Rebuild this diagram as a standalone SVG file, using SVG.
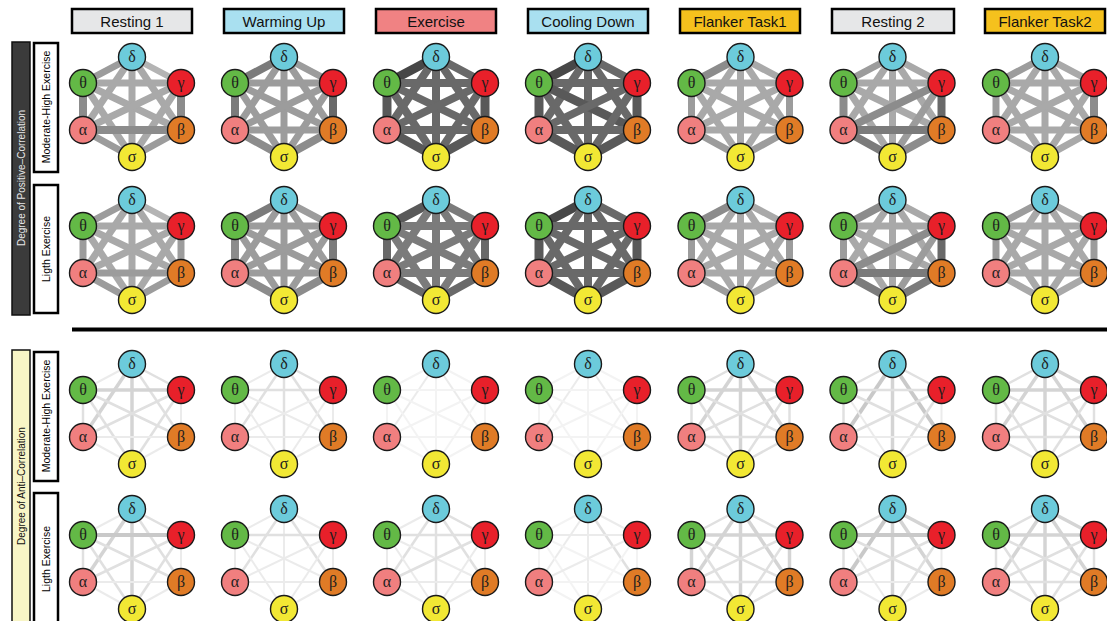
<svg xmlns="http://www.w3.org/2000/svg" xmlns:xlink="http://www.w3.org/1999/xlink" width="1107" height="621" viewBox="0 0 1107 621">
<style>
.hd rect{stroke:#000;stroke-width:2.5}
.hd text{font-family:"Liberation Sans",Arial,sans-serif;font-size:15px;text-anchor:middle;fill:#111}
.rest{fill:#e6e7e8}.warm{fill:#a9e0f0}.exer{fill:#f08283}.flank{fill:#f5c11d}
.lbl{font-family:"Liberation Sans",Arial,sans-serif;text-anchor:middle}
.n circle{stroke:#1a1a1a;stroke-width:1.4}
.n text{font-family:"Liberation Serif","Times New Roman",serif;font-size:16px;text-anchor:middle;fill:#1e1e1e}
.nd circle{fill:#6ccbdb}.nt circle{fill:#63b946}.ng circle{fill:#e8202a}
.na circle{fill:#f07f7f}.nb circle{fill:#e07b26}.ns circle{fill:#f2e834}
.p1{stroke:#b4b4b4;stroke-width:6.5}.p2{stroke:#a9a9a9;stroke-width:7}.p3{stroke:#9c9c9c;stroke-width:7}
.p4{stroke:#8c8c8c;stroke-width:8}.p5{stroke:#7b7b7b;stroke-width:8}.p6{stroke:#696969;stroke-width:8}
.p7{stroke:#595959;stroke-width:9}.p8{stroke:#474747;stroke-width:9}
.a1{stroke:#c9c9c9;stroke-width:4}.a2{stroke:#d4d4d4;stroke-width:3.5}.a3{stroke:#e0e0e0;stroke-width:2.5}
.a4{stroke:#ebebeb;stroke-width:2}.a5{stroke:#f3f3f3;stroke-width:2}
</style>
<defs>
<line id="dt" x1="0" y1="-50" x2="-49" y2="-24"/>
<line id="dg" x1="0" y1="-50" x2="49" y2="-24"/>
<line id="da" x1="0" y1="-50" x2="-49" y2="23"/>
<line id="db" x1="0" y1="-50" x2="49" y2="23"/>
<line id="ds" x1="0" y1="-50" x2="0" y2="50"/>
<line id="tg" x1="-49" y1="-24" x2="49" y2="-24"/>
<line id="ta" x1="-49" y1="-24" x2="-49" y2="23"/>
<line id="tb" x1="-49" y1="-24" x2="49" y2="23"/>
<line id="ts" x1="-49" y1="-24" x2="0" y2="50"/>
<line id="ga" x1="49" y1="-24" x2="-49" y2="23"/>
<line id="gb" x1="49" y1="-24" x2="49" y2="23"/>
<line id="gs" x1="49" y1="-24" x2="0" y2="50"/>
<line id="ab" x1="-49" y1="23" x2="49" y2="23"/>
<line id="as" x1="-49" y1="23" x2="0" y2="50"/>
<line id="bs" x1="49" y1="23" x2="0" y2="50"/>
</defs>
<rect width="1107" height="621" fill="#fff"/>

<g id="headers" class="hd">
<g id="h1"><rect class="rest" x="72" y="9" width="120" height="24"/><text x="132" y="27">Resting  1</text></g>
<g id="h2"><rect class="warm" x="224" y="9" width="120" height="24"/><text x="284" y="27">Warming  Up</text></g>
<g id="h3"><rect class="exer" x="376" y="9" width="120" height="24"/><text x="436" y="27">Exercise</text></g>
<g id="h4"><rect class="warm" x="528" y="9" width="120" height="24"/><text x="588" y="27">Cooling  Down</text></g>
<g id="h5"><rect class="flank" x="680" y="9" width="120" height="24"/><text x="740" y="27">Flanker Task1</text></g>
<g id="h6"><rect class="rest" x="832" y="9" width="122" height="24"/><text x="893" y="27">Resting  2</text></g>
<g id="h7"><rect class="flank" x="985" y="9" width="120" height="24"/><text x="1045" y="27">Flanker Task2</text></g>
</g>

<g id="side-labels">
<g id="pos-bar"><rect x="12" y="42" width="18" height="273" fill="#3b3b3b" stroke="#111" stroke-width="1.5"/><text class="lbl" transform="translate(25,178) rotate(-90)" font-size="10" fill="#e6e6e6">Degree of Positive–Correlation</text></g>
<g id="pos-mh"><rect x="34" y="43" width="24" height="129" fill="#fff" stroke="#000" stroke-width="2.5"/><text class="lbl" transform="translate(50,107) rotate(-90)" font-size="10.5" fill="#000">Moderate-High Exercise</text></g>
<g id="pos-l"><rect x="34" y="185" width="24" height="128" fill="#fff" stroke="#000" stroke-width="2.5"/><text class="lbl" transform="translate(50,249) rotate(-90)" font-size="10.5" fill="#000">Ligth Exercise</text></g>
<g id="anti-bar"><rect x="12" y="350" width="18" height="280" fill="#f8f5c6" stroke="#111" stroke-width="1.5"/><text class="lbl" transform="translate(25,486) rotate(-90)" font-size="10" fill="#111">Degree of Anti–Correlation</text></g>
<g id="anti-mh"><rect x="34" y="352" width="24" height="129" fill="#fff" stroke="#000" stroke-width="2.5"/><text class="lbl" transform="translate(50,416) rotate(-90)" font-size="10.5" fill="#000">Moderate-High Exercise</text></g>
<g id="anti-l"><rect x="34" y="493" width="24" height="140" fill="#fff" stroke="#000" stroke-width="2.5"/><text class="lbl" transform="translate(50,559) rotate(-90)" font-size="10.5" fill="#000">Ligth Exercise</text></g>
</g>
<line id="divider" x1="72" y1="329.5" x2="1107" y2="329.5" stroke="#000" stroke-width="4"/>

<!-- ROW 1 -->
<g id="r1c1" transform="translate(132,107)">
<g id="r1c1-edges"><use href="#dt" class="p3"/><use href="#dg" class="p1"/><use href="#da" class="p2"/><use href="#db" class="p2"/><use href="#ds" class="p2"/><use href="#tg" class="p2"/><use href="#ta" class="p4"/><use href="#tb" class="p2"/><use href="#ts" class="p2"/><use href="#ga" class="p2"/><use href="#gb" class="p4"/><use href="#gs" class="p2"/><use href="#ab" class="p4"/><use href="#as" class="p3"/><use href="#bs" class="p3"/></g>
<g id="r1c1-d" class="n nd"><circle cx="0" cy="-50" r="13.5"/><text x="0" y="-45">δ</text></g>
<g id="r1c1-t" class="n nt"><circle cx="-49" cy="-24" r="13.5"/><text x="-49" y="-19">θ</text></g>
<g id="r1c1-g" class="n ng"><circle cx="49" cy="-24" r="13.5"/><text x="49" y="-19">γ</text></g>
<g id="r1c1-a" class="n na"><circle cx="-49" cy="23" r="13.5"/><text x="-49" y="28">α</text></g>
<g id="r1c1-b" class="n nb"><circle cx="49" cy="23" r="13.5"/><text x="49" y="28">β</text></g>
<g id="r1c1-s" class="n ns"><circle cx="0" cy="50" r="13.5"/><text x="0" y="55">σ</text></g>
</g>
<g id="r1c2" transform="translate(284,107)">
<g id="r1c2-edges"><use href="#dt" class="p5"/><use href="#dg" class="p3"/><use href="#da" class="p3"/><use href="#db" class="p3"/><use href="#ds" class="p3"/><use href="#tg" class="p3"/><use href="#ta" class="p5"/><use href="#tb" class="p3"/><use href="#ts" class="p3"/><use href="#ga" class="p3"/><use href="#gb" class="p6"/><use href="#gs" class="p3"/><use href="#ab" class="p3"/><use href="#as" class="p4"/><use href="#bs" class="p4"/></g>
<g id="r1c2-d" class="n nd"><circle cx="0" cy="-50" r="13.5"/><text x="0" y="-45">δ</text></g>
<g id="r1c2-t" class="n nt"><circle cx="-49" cy="-24" r="13.5"/><text x="-49" y="-19">θ</text></g>
<g id="r1c2-g" class="n ng"><circle cx="49" cy="-24" r="13.5"/><text x="49" y="-19">γ</text></g>
<g id="r1c2-a" class="n na"><circle cx="-49" cy="23" r="13.5"/><text x="-49" y="28">α</text></g>
<g id="r1c2-b" class="n nb"><circle cx="49" cy="23" r="13.5"/><text x="49" y="28">β</text></g>
<g id="r1c2-s" class="n ns"><circle cx="0" cy="50" r="13.5"/><text x="0" y="55">σ</text></g>
</g>
<g id="r1c3" transform="translate(436,107)">
<g id="r1c3-edges"><use href="#dt" class="p8"/><use href="#dg" class="p6"/><use href="#da" class="p6"/><use href="#db" class="p6"/><use href="#ds" class="p6"/><use href="#tg" class="p6"/><use href="#ta" class="p7"/><use href="#tb" class="p6"/><use href="#ts" class="p6"/><use href="#ga" class="p6"/><use href="#gb" class="p7"/><use href="#gs" class="p6"/><use href="#ab" class="p6"/><use href="#as" class="p7"/><use href="#bs" class="p7"/></g>
<g id="r1c3-d" class="n nd"><circle cx="0" cy="-50" r="13.5"/><text x="0" y="-45">δ</text></g>
<g id="r1c3-t" class="n nt"><circle cx="-49" cy="-24" r="13.5"/><text x="-49" y="-19">θ</text></g>
<g id="r1c3-g" class="n ng"><circle cx="49" cy="-24" r="13.5"/><text x="49" y="-19">γ</text></g>
<g id="r1c3-a" class="n na"><circle cx="-49" cy="23" r="13.5"/><text x="-49" y="28">α</text></g>
<g id="r1c3-b" class="n nb"><circle cx="49" cy="23" r="13.5"/><text x="49" y="28">β</text></g>
<g id="r1c3-s" class="n ns"><circle cx="0" cy="50" r="13.5"/><text x="0" y="55">σ</text></g>
</g>
<g id="r1c4" transform="translate(588,107)">
<g id="r1c4-edges"><use href="#dt" class="p8"/><use href="#dg" class="p6"/><use href="#da" class="p6"/><use href="#db" class="p6"/><use href="#ds" class="p6"/><use href="#tg" class="p6"/><use href="#ta" class="p7"/><use href="#tb" class="p7"/><use href="#ts" class="p6"/><use href="#ga" class="p6"/><use href="#gb" class="p7"/><use href="#gs" class="p6"/><use href="#ab" class="p6"/><use href="#as" class="p7"/><use href="#bs" class="p7"/></g>
<g id="r1c4-d" class="n nd"><circle cx="0" cy="-50" r="13.5"/><text x="0" y="-45">δ</text></g>
<g id="r1c4-t" class="n nt"><circle cx="-49" cy="-24" r="13.5"/><text x="-49" y="-19">θ</text></g>
<g id="r1c4-g" class="n ng"><circle cx="49" cy="-24" r="13.5"/><text x="49" y="-19">γ</text></g>
<g id="r1c4-a" class="n na"><circle cx="-49" cy="23" r="13.5"/><text x="-49" y="28">α</text></g>
<g id="r1c4-b" class="n nb"><circle cx="49" cy="23" r="13.5"/><text x="49" y="28">β</text></g>
<g id="r1c4-s" class="n ns"><circle cx="0" cy="50" r="13.5"/><text x="0" y="55">σ</text></g>
</g>
<g id="r1c5" transform="translate(740.5,107)">
<g id="r1c5-edges"><use href="#dt" class="p4"/><use href="#dg" class="p2"/><use href="#da" class="p2"/><use href="#db" class="p2"/><use href="#ds" class="p2"/><use href="#tg" class="p2"/><use href="#ta" class="p3"/><use href="#tb" class="p2"/><use href="#ts" class="p2"/><use href="#ga" class="p2"/><use href="#gb" class="p3"/><use href="#gs" class="p2"/><use href="#ab" class="p2"/><use href="#as" class="p3"/><use href="#bs" class="p3"/></g>
<g id="r1c5-d" class="n nd"><circle cx="0" cy="-50" r="13.5"/><text x="0" y="-45">δ</text></g>
<g id="r1c5-t" class="n nt"><circle cx="-49" cy="-24" r="13.5"/><text x="-49" y="-19">θ</text></g>
<g id="r1c5-g" class="n ng"><circle cx="49" cy="-24" r="13.5"/><text x="49" y="-19">γ</text></g>
<g id="r1c5-a" class="n na"><circle cx="-49" cy="23" r="13.5"/><text x="-49" y="28">α</text></g>
<g id="r1c5-b" class="n nb"><circle cx="49" cy="23" r="13.5"/><text x="49" y="28">β</text></g>
<g id="r1c5-s" class="n ns"><circle cx="0" cy="50" r="13.5"/><text x="0" y="55">σ</text></g>
</g>
<g id="r1c6" transform="translate(892.5,107)">
<g id="r1c6-edges"><use href="#dt" class="p3"/><use href="#dg" class="p2"/><use href="#da" class="p2"/><use href="#db" class="p2"/><use href="#ds" class="p2"/><use href="#tg" class="p2"/><use href="#ta" class="p4"/><use href="#tb" class="p2"/><use href="#ts" class="p2"/><use href="#ga" class="p4"/><use href="#gb" class="p6"/><use href="#gs" class="p3"/><use href="#ab" class="p5"/><use href="#as" class="p5"/><use href="#bs" class="p4"/></g>
<g id="r1c6-d" class="n nd"><circle cx="0" cy="-50" r="13.5"/><text x="0" y="-45">δ</text></g>
<g id="r1c6-t" class="n nt"><circle cx="-49" cy="-24" r="13.5"/><text x="-49" y="-19">θ</text></g>
<g id="r1c6-g" class="n ng"><circle cx="49" cy="-24" r="13.5"/><text x="49" y="-19">γ</text></g>
<g id="r1c6-a" class="n na"><circle cx="-49" cy="23" r="13.5"/><text x="-49" y="28">α</text></g>
<g id="r1c6-b" class="n nb"><circle cx="49" cy="23" r="13.5"/><text x="49" y="28">β</text></g>
<g id="r1c6-s" class="n ns"><circle cx="0" cy="50" r="13.5"/><text x="0" y="55">σ</text></g>
</g>
<g id="r1c7" transform="translate(1045,107)">
<g id="r1c7-edges"><use href="#dt" class="p3"/><use href="#dg" class="p2"/><use href="#da" class="p2"/><use href="#db" class="p2"/><use href="#ds" class="p2"/><use href="#tg" class="p2"/><use href="#ta" class="p3"/><use href="#tb" class="p2"/><use href="#ts" class="p2"/><use href="#ga" class="p2"/><use href="#gb" class="p4"/><use href="#gs" class="p2"/><use href="#ab" class="p2"/><use href="#as" class="p2"/><use href="#bs" class="p2"/></g>
<g id="r1c7-d" class="n nd"><circle cx="0" cy="-50" r="13.5"/><text x="0" y="-45">δ</text></g>
<g id="r1c7-t" class="n nt"><circle cx="-49" cy="-24" r="13.5"/><text x="-49" y="-19">θ</text></g>
<g id="r1c7-g" class="n ng"><circle cx="49" cy="-24" r="13.5"/><text x="49" y="-19">γ</text></g>
<g id="r1c7-a" class="n na"><circle cx="-49" cy="23" r="13.5"/><text x="-49" y="28">α</text></g>
<g id="r1c7-b" class="n nb"><circle cx="49" cy="23" r="13.5"/><text x="49" y="28">β</text></g>
<g id="r1c7-s" class="n ns"><circle cx="0" cy="50" r="13.5"/><text x="0" y="55">σ</text></g>
</g>

<!-- ROW 2 -->
<g id="r2c1" transform="translate(132,250)">
<g id="r2c1-edges"><use href="#dt" class="p3"/><use href="#dg" class="p1"/><use href="#da" class="p2"/><use href="#db" class="p2"/><use href="#ds" class="p2"/><use href="#tg" class="p2"/><use href="#ta" class="p3"/><use href="#tb" class="p2"/><use href="#ts" class="p2"/><use href="#ga" class="p2"/><use href="#gb" class="p3"/><use href="#gs" class="p2"/><use href="#ab" class="p3"/><use href="#as" class="p3"/><use href="#bs" class="p3"/></g>
<g id="r2c1-d" class="n nd"><circle cx="0" cy="-50" r="13.5"/><text x="0" y="-45">δ</text></g>
<g id="r2c1-t" class="n nt"><circle cx="-49" cy="-24" r="13.5"/><text x="-49" y="-19">θ</text></g>
<g id="r2c1-g" class="n ng"><circle cx="49" cy="-24" r="13.5"/><text x="49" y="-19">γ</text></g>
<g id="r2c1-a" class="n na"><circle cx="-49" cy="23" r="13.5"/><text x="-49" y="28">α</text></g>
<g id="r2c1-b" class="n nb"><circle cx="49" cy="23" r="13.5"/><text x="49" y="28">β</text></g>
<g id="r2c1-s" class="n ns"><circle cx="0" cy="50" r="13.5"/><text x="0" y="55">σ</text></g>
</g>
<g id="r2c2" transform="translate(284,250)">
<g id="r2c2-edges"><use href="#dt" class="p5"/><use href="#dg" class="p3"/><use href="#da" class="p3"/><use href="#db" class="p3"/><use href="#ds" class="p3"/><use href="#tg" class="p3"/><use href="#ta" class="p4"/><use href="#tb" class="p3"/><use href="#ts" class="p3"/><use href="#ga" class="p3"/><use href="#gb" class="p5"/><use href="#gs" class="p3"/><use href="#ab" class="p3"/><use href="#as" class="p4"/><use href="#bs" class="p4"/></g>
<g id="r2c2-d" class="n nd"><circle cx="0" cy="-50" r="13.5"/><text x="0" y="-45">δ</text></g>
<g id="r2c2-t" class="n nt"><circle cx="-49" cy="-24" r="13.5"/><text x="-49" y="-19">θ</text></g>
<g id="r2c2-g" class="n ng"><circle cx="49" cy="-24" r="13.5"/><text x="49" y="-19">γ</text></g>
<g id="r2c2-a" class="n na"><circle cx="-49" cy="23" r="13.5"/><text x="-49" y="28">α</text></g>
<g id="r2c2-b" class="n nb"><circle cx="49" cy="23" r="13.5"/><text x="49" y="28">β</text></g>
<g id="r2c2-s" class="n ns"><circle cx="0" cy="50" r="13.5"/><text x="0" y="55">σ</text></g>
</g>
<g id="r2c3" transform="translate(436,250)">
<g id="r2c3-edges"><use href="#dt" class="p7"/><use href="#dg" class="p5"/><use href="#da" class="p5"/><use href="#db" class="p5"/><use href="#ds" class="p5"/><use href="#tg" class="p5"/><use href="#ta" class="p6"/><use href="#tb" class="p5"/><use href="#ts" class="p5"/><use href="#ga" class="p5"/><use href="#gb" class="p6"/><use href="#gs" class="p5"/><use href="#ab" class="p5"/><use href="#as" class="p6"/><use href="#bs" class="p6"/></g>
<g id="r2c3-d" class="n nd"><circle cx="0" cy="-50" r="13.5"/><text x="0" y="-45">δ</text></g>
<g id="r2c3-t" class="n nt"><circle cx="-49" cy="-24" r="13.5"/><text x="-49" y="-19">θ</text></g>
<g id="r2c3-g" class="n ng"><circle cx="49" cy="-24" r="13.5"/><text x="49" y="-19">γ</text></g>
<g id="r2c3-a" class="n na"><circle cx="-49" cy="23" r="13.5"/><text x="-49" y="28">α</text></g>
<g id="r2c3-b" class="n nb"><circle cx="49" cy="23" r="13.5"/><text x="49" y="28">β</text></g>
<g id="r2c3-s" class="n ns"><circle cx="0" cy="50" r="13.5"/><text x="0" y="55">σ</text></g>
</g>
<g id="r2c4" transform="translate(588,250)">
<g id="r2c4-edges"><use href="#dt" class="p8"/><use href="#dg" class="p6"/><use href="#da" class="p6"/><use href="#db" class="p6"/><use href="#ds" class="p6"/><use href="#tg" class="p6"/><use href="#ta" class="p7"/><use href="#tb" class="p6"/><use href="#ts" class="p6"/><use href="#ga" class="p6"/><use href="#gb" class="p7"/><use href="#gs" class="p6"/><use href="#ab" class="p6"/><use href="#as" class="p7"/><use href="#bs" class="p7"/></g>
<g id="r2c4-d" class="n nd"><circle cx="0" cy="-50" r="13.5"/><text x="0" y="-45">δ</text></g>
<g id="r2c4-t" class="n nt"><circle cx="-49" cy="-24" r="13.5"/><text x="-49" y="-19">θ</text></g>
<g id="r2c4-g" class="n ng"><circle cx="49" cy="-24" r="13.5"/><text x="49" y="-19">γ</text></g>
<g id="r2c4-a" class="n na"><circle cx="-49" cy="23" r="13.5"/><text x="-49" y="28">α</text></g>
<g id="r2c4-b" class="n nb"><circle cx="49" cy="23" r="13.5"/><text x="49" y="28">β</text></g>
<g id="r2c4-s" class="n ns"><circle cx="0" cy="50" r="13.5"/><text x="0" y="55">σ</text></g>
</g>
<g id="r2c5" transform="translate(740.5,250)">
<g id="r2c5-edges"><use href="#dt" class="p4"/><use href="#dg" class="p2"/><use href="#da" class="p2"/><use href="#db" class="p2"/><use href="#ds" class="p2"/><use href="#tg" class="p2"/><use href="#ta" class="p3"/><use href="#tb" class="p2"/><use href="#ts" class="p2"/><use href="#ga" class="p2"/><use href="#gb" class="p3"/><use href="#gs" class="p2"/><use href="#ab" class="p2"/><use href="#as" class="p3"/><use href="#bs" class="p2"/></g>
<g id="r2c5-d" class="n nd"><circle cx="0" cy="-50" r="13.5"/><text x="0" y="-45">δ</text></g>
<g id="r2c5-t" class="n nt"><circle cx="-49" cy="-24" r="13.5"/><text x="-49" y="-19">θ</text></g>
<g id="r2c5-g" class="n ng"><circle cx="49" cy="-24" r="13.5"/><text x="49" y="-19">γ</text></g>
<g id="r2c5-a" class="n na"><circle cx="-49" cy="23" r="13.5"/><text x="-49" y="28">α</text></g>
<g id="r2c5-b" class="n nb"><circle cx="49" cy="23" r="13.5"/><text x="49" y="28">β</text></g>
<g id="r2c5-s" class="n ns"><circle cx="0" cy="50" r="13.5"/><text x="0" y="55">σ</text></g>
</g>
<g id="r2c6" transform="translate(892.5,250)">
<g id="r2c6-edges"><use href="#dt" class="p4"/><use href="#dg" class="p2"/><use href="#da" class="p2"/><use href="#db" class="p2"/><use href="#ds" class="p2"/><use href="#tg" class="p2"/><use href="#ta" class="p3"/><use href="#tb" class="p2"/><use href="#ts" class="p2"/><use href="#ga" class="p4"/><use href="#gb" class="p6"/><use href="#gs" class="p3"/><use href="#ab" class="p5"/><use href="#as" class="p5"/><use href="#bs" class="p5"/></g>
<g id="r2c6-d" class="n nd"><circle cx="0" cy="-50" r="13.5"/><text x="0" y="-45">δ</text></g>
<g id="r2c6-t" class="n nt"><circle cx="-49" cy="-24" r="13.5"/><text x="-49" y="-19">θ</text></g>
<g id="r2c6-g" class="n ng"><circle cx="49" cy="-24" r="13.5"/><text x="49" y="-19">γ</text></g>
<g id="r2c6-a" class="n na"><circle cx="-49" cy="23" r="13.5"/><text x="-49" y="28">α</text></g>
<g id="r2c6-b" class="n nb"><circle cx="49" cy="23" r="13.5"/><text x="49" y="28">β</text></g>
<g id="r2c6-s" class="n ns"><circle cx="0" cy="50" r="13.5"/><text x="0" y="55">σ</text></g>
</g>
<g id="r2c7" transform="translate(1045,250)">
<g id="r2c7-edges"><use href="#dt" class="p3"/><use href="#dg" class="p2"/><use href="#da" class="p2"/><use href="#db" class="p2"/><use href="#ds" class="p2"/><use href="#tg" class="p2"/><use href="#ta" class="p3"/><use href="#tb" class="p2"/><use href="#ts" class="p2"/><use href="#ga" class="p2"/><use href="#gb" class="p3"/><use href="#gs" class="p2"/><use href="#ab" class="p2"/><use href="#as" class="p2"/><use href="#bs" class="p2"/></g>
<g id="r2c7-d" class="n nd"><circle cx="0" cy="-50" r="13.5"/><text x="0" y="-45">δ</text></g>
<g id="r2c7-t" class="n nt"><circle cx="-49" cy="-24" r="13.5"/><text x="-49" y="-19">θ</text></g>
<g id="r2c7-g" class="n ng"><circle cx="49" cy="-24" r="13.5"/><text x="49" y="-19">γ</text></g>
<g id="r2c7-a" class="n na"><circle cx="-49" cy="23" r="13.5"/><text x="-49" y="28">α</text></g>
<g id="r2c7-b" class="n nb"><circle cx="49" cy="23" r="13.5"/><text x="49" y="28">β</text></g>
<g id="r2c7-s" class="n ns"><circle cx="0" cy="50" r="13.5"/><text x="0" y="55">σ</text></g>
</g>

<!-- ROW 3 -->
<g id="r3c1" transform="translate(132,414)">
<g id="r3c1-edges"><use href="#dt" class="a4"/><use href="#dg" class="a3"/><use href="#da" class="a2"/><use href="#db" class="a3"/><use href="#ds" class="a2"/><use href="#tg" class="a2"/><use href="#ta" class="a3"/><use href="#tb" class="a3"/><use href="#ts" class="a3"/><use href="#ga" class="a3"/><use href="#gb" class="a4"/><use href="#gs" class="a3"/><use href="#ab" class="a4"/><use href="#as" class="a4"/><use href="#bs" class="a4"/></g>
<g id="r3c1-d" class="n nd"><circle cx="0" cy="-50" r="13.5"/><text x="0" y="-45">δ</text></g>
<g id="r3c1-t" class="n nt"><circle cx="-49" cy="-24" r="13.5"/><text x="-49" y="-19">θ</text></g>
<g id="r3c1-g" class="n ng"><circle cx="49" cy="-24" r="13.5"/><text x="49" y="-19">γ</text></g>
<g id="r3c1-a" class="n na"><circle cx="-49" cy="23" r="13.5"/><text x="-49" y="28">α</text></g>
<g id="r3c1-b" class="n nb"><circle cx="49" cy="23" r="13.5"/><text x="49" y="28">β</text></g>
<g id="r3c1-s" class="n ns"><circle cx="0" cy="50" r="13.5"/><text x="0" y="55">σ</text></g>
</g>
<g id="r3c2" transform="translate(284,414)">
<g id="r3c2-edges"><use href="#dt" class="a4"/><use href="#dg" class="a3"/><use href="#da" class="a3"/><use href="#db" class="a3"/><use href="#ds" class="a3"/><use href="#tg" class="a3"/><use href="#ta" class="a4"/><use href="#tb" class="a4"/><use href="#ts" class="a4"/><use href="#ga" class="a4"/><use href="#gb" class="a4"/><use href="#gs" class="a4"/><use href="#ab" class="a4"/><use href="#as" class="a4"/><use href="#bs" class="a4"/></g>
<g id="r3c2-d" class="n nd"><circle cx="0" cy="-50" r="13.5"/><text x="0" y="-45">δ</text></g>
<g id="r3c2-t" class="n nt"><circle cx="-49" cy="-24" r="13.5"/><text x="-49" y="-19">θ</text></g>
<g id="r3c2-g" class="n ng"><circle cx="49" cy="-24" r="13.5"/><text x="49" y="-19">γ</text></g>
<g id="r3c2-a" class="n na"><circle cx="-49" cy="23" r="13.5"/><text x="-49" y="28">α</text></g>
<g id="r3c2-b" class="n nb"><circle cx="49" cy="23" r="13.5"/><text x="49" y="28">β</text></g>
<g id="r3c2-s" class="n ns"><circle cx="0" cy="50" r="13.5"/><text x="0" y="55">σ</text></g>
</g>
<g id="r3c3" transform="translate(436,414)">
<g id="r3c3-edges"><use href="#dt" class="a5"/><use href="#dg" class="a5"/><use href="#da" class="a4"/><use href="#db" class="a4"/><use href="#ds" class="a5"/><use href="#tg" class="a5"/><use href="#ta" class="a5"/><use href="#tb" class="a5"/><use href="#ts" class="a5"/><use href="#ga" class="a5"/><use href="#gb" class="a5"/><use href="#gs" class="a5"/><use href="#ab" class="a5"/><use href="#as" class="a5"/><use href="#bs" class="a5"/></g>
<g id="r3c3-d" class="n nd"><circle cx="0" cy="-50" r="13.5"/><text x="0" y="-45">δ</text></g>
<g id="r3c3-t" class="n nt"><circle cx="-49" cy="-24" r="13.5"/><text x="-49" y="-19">θ</text></g>
<g id="r3c3-g" class="n ng"><circle cx="49" cy="-24" r="13.5"/><text x="49" y="-19">γ</text></g>
<g id="r3c3-a" class="n na"><circle cx="-49" cy="23" r="13.5"/><text x="-49" y="28">α</text></g>
<g id="r3c3-b" class="n nb"><circle cx="49" cy="23" r="13.5"/><text x="49" y="28">β</text></g>
<g id="r3c3-s" class="n ns"><circle cx="0" cy="50" r="13.5"/><text x="0" y="55">σ</text></g>
</g>
<g id="r3c4" transform="translate(588,414)">
<g id="r3c4-edges"><use href="#dt" class="a5"/><use href="#dg" class="a5"/><use href="#da" class="a4"/><use href="#db" class="a4"/><use href="#ds" class="a5"/><use href="#tg" class="a5"/><use href="#ta" class="a5"/><use href="#tb" class="a5"/><use href="#ts" class="a5"/><use href="#ga" class="a5"/><use href="#gb" class="a5"/><use href="#gs" class="a5"/><use href="#ab" class="a5"/><use href="#as" class="a5"/><use href="#bs" class="a5"/></g>
<g id="r3c4-d" class="n nd"><circle cx="0" cy="-50" r="13.5"/><text x="0" y="-45">δ</text></g>
<g id="r3c4-t" class="n nt"><circle cx="-49" cy="-24" r="13.5"/><text x="-49" y="-19">θ</text></g>
<g id="r3c4-g" class="n ng"><circle cx="49" cy="-24" r="13.5"/><text x="49" y="-19">γ</text></g>
<g id="r3c4-a" class="n na"><circle cx="-49" cy="23" r="13.5"/><text x="-49" y="28">α</text></g>
<g id="r3c4-b" class="n nb"><circle cx="49" cy="23" r="13.5"/><text x="49" y="28">β</text></g>
<g id="r3c4-s" class="n ns"><circle cx="0" cy="50" r="13.5"/><text x="0" y="55">σ</text></g>
</g>
<g id="r3c5" transform="translate(740.5,414)">
<g id="r3c5-edges"><use href="#dt" class="a3"/><use href="#dg" class="a3"/><use href="#da" class="a2"/><use href="#db" class="a2"/><use href="#ds" class="a2"/><use href="#tg" class="a2"/><use href="#ta" class="a3"/><use href="#tb" class="a3"/><use href="#ts" class="a3"/><use href="#ga" class="a3"/><use href="#gb" class="a3"/><use href="#gs" class="a3"/><use href="#ab" class="a3"/><use href="#as" class="a3"/><use href="#bs" class="a3"/></g>
<g id="r3c5-d" class="n nd"><circle cx="0" cy="-50" r="13.5"/><text x="0" y="-45">δ</text></g>
<g id="r3c5-t" class="n nt"><circle cx="-49" cy="-24" r="13.5"/><text x="-49" y="-19">θ</text></g>
<g id="r3c5-g" class="n ng"><circle cx="49" cy="-24" r="13.5"/><text x="49" y="-19">γ</text></g>
<g id="r3c5-a" class="n na"><circle cx="-49" cy="23" r="13.5"/><text x="-49" y="28">α</text></g>
<g id="r3c5-b" class="n nb"><circle cx="49" cy="23" r="13.5"/><text x="49" y="28">β</text></g>
<g id="r3c5-s" class="n ns"><circle cx="0" cy="50" r="13.5"/><text x="0" y="55">σ</text></g>
</g>
<g id="r3c6" transform="translate(892.5,414)">
<g id="r3c6-edges"><use href="#dt" class="a3"/><use href="#dg" class="a3"/><use href="#da" class="a1"/><use href="#db" class="a1"/><use href="#ds" class="a2"/><use href="#tg" class="a3"/><use href="#ta" class="a3"/><use href="#tb" class="a3"/><use href="#ts" class="a4"/><use href="#ga" class="a3"/><use href="#gb" class="a4"/><use href="#gs" class="a3"/><use href="#ab" class="a4"/><use href="#as" class="a4"/><use href="#bs" class="a4"/></g>
<g id="r3c6-d" class="n nd"><circle cx="0" cy="-50" r="13.5"/><text x="0" y="-45">δ</text></g>
<g id="r3c6-t" class="n nt"><circle cx="-49" cy="-24" r="13.5"/><text x="-49" y="-19">θ</text></g>
<g id="r3c6-g" class="n ng"><circle cx="49" cy="-24" r="13.5"/><text x="49" y="-19">γ</text></g>
<g id="r3c6-a" class="n na"><circle cx="-49" cy="23" r="13.5"/><text x="-49" y="28">α</text></g>
<g id="r3c6-b" class="n nb"><circle cx="49" cy="23" r="13.5"/><text x="49" y="28">β</text></g>
<g id="r3c6-s" class="n ns"><circle cx="0" cy="50" r="13.5"/><text x="0" y="55">σ</text></g>
</g>
<g id="r3c7" transform="translate(1045,414)">
<g id="r3c7-edges"><use href="#dt" class="a3"/><use href="#dg" class="a2"/><use href="#da" class="a2"/><use href="#db" class="a2"/><use href="#ds" class="a2"/><use href="#tg" class="a2"/><use href="#ta" class="a3"/><use href="#tb" class="a3"/><use href="#ts" class="a3"/><use href="#ga" class="a3"/><use href="#gb" class="a3"/><use href="#gs" class="a3"/><use href="#ab" class="a3"/><use href="#as" class="a3"/><use href="#bs" class="a3"/></g>
<g id="r3c7-d" class="n nd"><circle cx="0" cy="-50" r="13.5"/><text x="0" y="-45">δ</text></g>
<g id="r3c7-t" class="n nt"><circle cx="-49" cy="-24" r="13.5"/><text x="-49" y="-19">θ</text></g>
<g id="r3c7-g" class="n ng"><circle cx="49" cy="-24" r="13.5"/><text x="49" y="-19">γ</text></g>
<g id="r3c7-a" class="n na"><circle cx="-49" cy="23" r="13.5"/><text x="-49" y="28">α</text></g>
<g id="r3c7-b" class="n nb"><circle cx="49" cy="23" r="13.5"/><text x="49" y="28">β</text></g>
<g id="r3c7-s" class="n ns"><circle cx="0" cy="50" r="13.5"/><text x="0" y="55">σ</text></g>
</g>

<!-- ROW 4 -->
<g id="r4c1" transform="translate(132,559)">
<g id="r4c1-edges"><use href="#dt" class="a4"/><use href="#dg" class="a3"/><use href="#da" class="a2"/><use href="#db" class="a3"/><use href="#ds" class="a2"/><use href="#tg" class="a1"/><use href="#ta" class="a3"/><use href="#tb" class="a3"/><use href="#ts" class="a3"/><use href="#ga" class="a3"/><use href="#gb" class="a4"/><use href="#gs" class="a3"/><use href="#ab" class="a4"/><use href="#as" class="a4"/><use href="#bs" class="a4"/></g>
<g id="r4c1-d" class="n nd"><circle cx="0" cy="-50" r="13.5"/><text x="0" y="-45">δ</text></g>
<g id="r4c1-t" class="n nt"><circle cx="-49" cy="-24" r="13.5"/><text x="-49" y="-19">θ</text></g>
<g id="r4c1-g" class="n ng"><circle cx="49" cy="-24" r="13.5"/><text x="49" y="-19">γ</text></g>
<g id="r4c1-a" class="n na"><circle cx="-49" cy="23" r="13.5"/><text x="-49" y="28">α</text></g>
<g id="r4c1-b" class="n nb"><circle cx="49" cy="23" r="13.5"/><text x="49" y="28">β</text></g>
<g id="r4c1-s" class="n ns"><circle cx="0" cy="50" r="13.5"/><text x="0" y="55">σ</text></g>
</g>
<g id="r4c2" transform="translate(284,559)">
<g id="r4c2-edges"><use href="#dt" class="a4"/><use href="#dg" class="a4"/><use href="#da" class="a3"/><use href="#db" class="a3"/><use href="#ds" class="a4"/><use href="#tg" class="a3"/><use href="#ta" class="a4"/><use href="#tb" class="a4"/><use href="#ts" class="a4"/><use href="#ga" class="a4"/><use href="#gb" class="a4"/><use href="#gs" class="a4"/><use href="#ab" class="a4"/><use href="#as" class="a4"/><use href="#bs" class="a4"/></g>
<g id="r4c2-d" class="n nd"><circle cx="0" cy="-50" r="13.5"/><text x="0" y="-45">δ</text></g>
<g id="r4c2-t" class="n nt"><circle cx="-49" cy="-24" r="13.5"/><text x="-49" y="-19">θ</text></g>
<g id="r4c2-g" class="n ng"><circle cx="49" cy="-24" r="13.5"/><text x="49" y="-19">γ</text></g>
<g id="r4c2-a" class="n na"><circle cx="-49" cy="23" r="13.5"/><text x="-49" y="28">α</text></g>
<g id="r4c2-b" class="n nb"><circle cx="49" cy="23" r="13.5"/><text x="49" y="28">β</text></g>
<g id="r4c2-s" class="n ns"><circle cx="0" cy="50" r="13.5"/><text x="0" y="55">σ</text></g>
</g>
<g id="r4c3" transform="translate(436,559)">
<g id="r4c3-edges"><use href="#dt" class="a4"/><use href="#dg" class="a3"/><use href="#da" class="a3"/><use href="#db" class="a3"/><use href="#ds" class="a3"/><use href="#tg" class="a3"/><use href="#ta" class="a4"/><use href="#tb" class="a4"/><use href="#ts" class="a4"/><use href="#ga" class="a3"/><use href="#gb" class="a4"/><use href="#gs" class="a4"/><use href="#ab" class="a4"/><use href="#as" class="a4"/><use href="#bs" class="a4"/></g>
<g id="r4c3-d" class="n nd"><circle cx="0" cy="-50" r="13.5"/><text x="0" y="-45">δ</text></g>
<g id="r4c3-t" class="n nt"><circle cx="-49" cy="-24" r="13.5"/><text x="-49" y="-19">θ</text></g>
<g id="r4c3-g" class="n ng"><circle cx="49" cy="-24" r="13.5"/><text x="49" y="-19">γ</text></g>
<g id="r4c3-a" class="n na"><circle cx="-49" cy="23" r="13.5"/><text x="-49" y="28">α</text></g>
<g id="r4c3-b" class="n nb"><circle cx="49" cy="23" r="13.5"/><text x="49" y="28">β</text></g>
<g id="r4c3-s" class="n ns"><circle cx="0" cy="50" r="13.5"/><text x="0" y="55">σ</text></g>
</g>
<g id="r4c4" transform="translate(588,559)">
<g id="r4c4-edges"><use href="#dt" class="a5"/><use href="#dg" class="a4"/><use href="#da" class="a4"/><use href="#db" class="a3"/><use href="#ds" class="a4"/><use href="#tg" class="a4"/><use href="#ta" class="a5"/><use href="#tb" class="a5"/><use href="#ts" class="a5"/><use href="#ga" class="a4"/><use href="#gb" class="a5"/><use href="#gs" class="a5"/><use href="#ab" class="a5"/><use href="#as" class="a5"/><use href="#bs" class="a5"/></g>
<g id="r4c4-d" class="n nd"><circle cx="0" cy="-50" r="13.5"/><text x="0" y="-45">δ</text></g>
<g id="r4c4-t" class="n nt"><circle cx="-49" cy="-24" r="13.5"/><text x="-49" y="-19">θ</text></g>
<g id="r4c4-g" class="n ng"><circle cx="49" cy="-24" r="13.5"/><text x="49" y="-19">γ</text></g>
<g id="r4c4-a" class="n na"><circle cx="-49" cy="23" r="13.5"/><text x="-49" y="28">α</text></g>
<g id="r4c4-b" class="n nb"><circle cx="49" cy="23" r="13.5"/><text x="49" y="28">β</text></g>
<g id="r4c4-s" class="n ns"><circle cx="0" cy="50" r="13.5"/><text x="0" y="55">σ</text></g>
</g>
<g id="r4c5" transform="translate(740.5,559)">
<g id="r4c5-edges"><use href="#dt" class="a3"/><use href="#dg" class="a3"/><use href="#da" class="a2"/><use href="#db" class="a2"/><use href="#ds" class="a2"/><use href="#tg" class="a2"/><use href="#ta" class="a2"/><use href="#tb" class="a3"/><use href="#ts" class="a3"/><use href="#ga" class="a3"/><use href="#gb" class="a2"/><use href="#gs" class="a3"/><use href="#ab" class="a3"/><use href="#as" class="a3"/><use href="#bs" class="a3"/></g>
<g id="r4c5-d" class="n nd"><circle cx="0" cy="-50" r="13.5"/><text x="0" y="-45">δ</text></g>
<g id="r4c5-t" class="n nt"><circle cx="-49" cy="-24" r="13.5"/><text x="-49" y="-19">θ</text></g>
<g id="r4c5-g" class="n ng"><circle cx="49" cy="-24" r="13.5"/><text x="49" y="-19">γ</text></g>
<g id="r4c5-a" class="n na"><circle cx="-49" cy="23" r="13.5"/><text x="-49" y="28">α</text></g>
<g id="r4c5-b" class="n nb"><circle cx="49" cy="23" r="13.5"/><text x="49" y="28">β</text></g>
<g id="r4c5-s" class="n ns"><circle cx="0" cy="50" r="13.5"/><text x="0" y="55">σ</text></g>
</g>
<g id="r4c6" transform="translate(892.5,559)">
<g id="r4c6-edges"><use href="#dt" class="a3"/><use href="#dg" class="a2"/><use href="#da" class="a1"/><use href="#db" class="a2"/><use href="#ds" class="a2"/><use href="#tg" class="a1"/><use href="#ta" class="a3"/><use href="#tb" class="a3"/><use href="#ts" class="a4"/><use href="#ga" class="a3"/><use href="#gb" class="a4"/><use href="#gs" class="a3"/><use href="#ab" class="a4"/><use href="#as" class="a4"/><use href="#bs" class="a4"/></g>
<g id="r4c6-d" class="n nd"><circle cx="0" cy="-50" r="13.5"/><text x="0" y="-45">δ</text></g>
<g id="r4c6-t" class="n nt"><circle cx="-49" cy="-24" r="13.5"/><text x="-49" y="-19">θ</text></g>
<g id="r4c6-g" class="n ng"><circle cx="49" cy="-24" r="13.5"/><text x="49" y="-19">γ</text></g>
<g id="r4c6-a" class="n na"><circle cx="-49" cy="23" r="13.5"/><text x="-49" y="28">α</text></g>
<g id="r4c6-b" class="n nb"><circle cx="49" cy="23" r="13.5"/><text x="49" y="28">β</text></g>
<g id="r4c6-s" class="n ns"><circle cx="0" cy="50" r="13.5"/><text x="0" y="55">σ</text></g>
</g>
<g id="r4c7" transform="translate(1045,559)">
<g id="r4c7-edges"><use href="#dt" class="a3"/><use href="#dg" class="a2"/><use href="#da" class="a2"/><use href="#db" class="a2"/><use href="#ds" class="a2"/><use href="#tg" class="a2"/><use href="#ta" class="a3"/><use href="#tb" class="a3"/><use href="#ts" class="a3"/><use href="#ga" class="a3"/><use href="#gb" class="a3"/><use href="#gs" class="a3"/><use href="#ab" class="a3"/><use href="#as" class="a3"/><use href="#bs" class="a3"/></g>
<g id="r4c7-d" class="n nd"><circle cx="0" cy="-50" r="13.5"/><text x="0" y="-45">δ</text></g>
<g id="r4c7-t" class="n nt"><circle cx="-49" cy="-24" r="13.5"/><text x="-49" y="-19">θ</text></g>
<g id="r4c7-g" class="n ng"><circle cx="49" cy="-24" r="13.5"/><text x="49" y="-19">γ</text></g>
<g id="r4c7-a" class="n na"><circle cx="-49" cy="23" r="13.5"/><text x="-49" y="28">α</text></g>
<g id="r4c7-b" class="n nb"><circle cx="49" cy="23" r="13.5"/><text x="49" y="28">β</text></g>
<g id="r4c7-s" class="n ns"><circle cx="0" cy="50" r="13.5"/><text x="0" y="55">σ</text></g>
</g>
</svg>
